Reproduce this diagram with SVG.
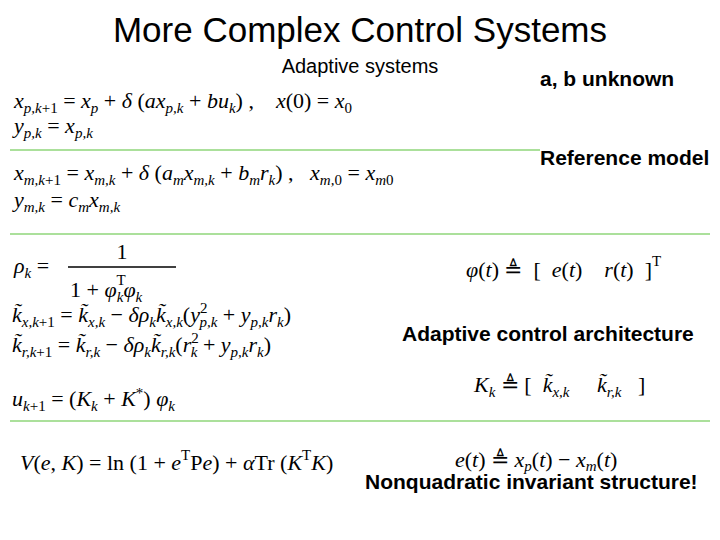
<svg xmlns="http://www.w3.org/2000/svg" width="720" height="540" viewBox="0 0 720 540">
<style>
.m{font-family:"Liberation Serif",serif;font-size:22px;fill:#000;white-space:pre}
.i{font-style:italic}
.s{font-size:15px}
.h{font-family:"Liberation Sans",sans-serif;fill:#000}
.b{font-family:"Liberation Sans",sans-serif;font-weight:bold;font-size:21px;fill:#000}
.g{stroke:#8fd67a;stroke-width:1.5}
</style>
<rect width="720" height="540" fill="#fff"/>
<g id="title"><text class="h" x="360" y="42" font-size="35" text-anchor="middle">More Complex Control Systems</text>
<text class="h" x="360" y="73" font-size="20" text-anchor="middle">Adaptive systems</text></g>
<g id="labels">
<text class="b" x="540" y="86">a, b unknown</text>
<text class="b" x="540" y="165">Reference model</text>
<text class="b" x="402" y="341">Adaptive control architecture</text>
<text class="b" x="365" y="489">Nonquadratic invariant structure!</text>
</g>
<g id="lines">
<line class="g" x1="10" y1="150" x2="540" y2="150"/>
<line class="g" x1="10" y1="234" x2="710" y2="234"/>
<line class="g" x1="10" y1="421" x2="710" y2="421"/>
</g>
<g id="eq">
<text class="m" x="14" y="108"><tspan class="i">x</tspan><tspan class="i s" dy="5">p,k</tspan><tspan class="s">+1</tspan><tspan dy="-5"> = </tspan><tspan class="i">x</tspan><tspan class="i s" dy="5">p</tspan><tspan dy="-5"> + </tspan><tspan class="i">δ</tspan> (<tspan class="i">ax</tspan><tspan class="i s" dy="5">p,k</tspan><tspan dy="-5"> + </tspan><tspan class="i">bu</tspan><tspan class="i s" dy="5">k</tspan><tspan dy="-5">) ,    </tspan><tspan class="i">x</tspan>(0) = <tspan class="i">x</tspan><tspan class="s" dy="5">0</tspan></text>
<text class="m" x="14" y="133"><tspan class="i">y</tspan><tspan class="i s" dy="5">p,k</tspan><tspan dy="-5"> = </tspan><tspan class="i">x</tspan><tspan class="i s" dy="5">p,k</tspan></text>
<text class="m" x="14" y="180"><tspan class="i">x</tspan><tspan class="i s" dy="5">m,k</tspan><tspan class="s">+1</tspan><tspan dy="-5"> = </tspan><tspan class="i">x</tspan><tspan class="i s" dy="5">m,k</tspan><tspan dy="-5"> + </tspan><tspan class="i">δ</tspan> (<tspan class="i">a</tspan><tspan class="i s" dy="5">m</tspan><tspan class="i" dy="-5">x</tspan><tspan class="i s" dy="5">m,k</tspan><tspan dy="-5"> + </tspan><tspan class="i">b</tspan><tspan class="i s" dy="5">m</tspan><tspan class="i" dy="-5">r</tspan><tspan class="i s" dy="5">k</tspan><tspan dy="-5">) ,   </tspan><tspan class="i">x</tspan><tspan class="i s" dy="5">m,</tspan><tspan class="s">0</tspan><tspan dy="-5"> = </tspan><tspan class="i">x</tspan><tspan class="i s" dy="5">m</tspan><tspan class="s">0</tspan></text>
<text class="m" x="14" y="207"><tspan class="i">y</tspan><tspan class="i s" dy="5">m,k</tspan><tspan dy="-5"> = </tspan><tspan class="i">c</tspan><tspan class="i s" dy="5">m</tspan><tspan class="i" dy="-5">x</tspan><tspan class="i s" dy="5">m,k</tspan></text>
<text class="m" x="14" y="273" font-size="24"><tspan class="i">ρ</tspan><tspan class="i s" dy="5">k</tspan><tspan dy="-5"> =</tspan></text>
<text class="m" x="122" y="259" font-size="24" text-anchor="middle">1</text>
<line x1="68" y1="267" x2="176" y2="267" stroke="#000" stroke-width="1.3"/>
<text class="m" x="70" y="297" font-size="24">1 + <tspan class="i">φ</tspan><tspan class="s" dy="-12">T</tspan><tspan class="i s" dx="-9" dy="17">k</tspan><tspan class="i" dy="-5">φ</tspan><tspan class="i s" dy="5">k</tspan></text>
<text class="m" x="12" y="322" font-size="23"><tspan class="i">k̃</tspan><tspan class="i s" dy="5">x,k</tspan><tspan class="s">+1</tspan><tspan dy="-5"> = </tspan><tspan class="i">k̃</tspan><tspan class="i s" dy="5">x,k</tspan><tspan dy="-5"> − </tspan><tspan class="i">δρ</tspan><tspan class="i s" dy="5">k</tspan><tspan class="i" dy="-5">k̃</tspan><tspan class="i s" dy="5">x,k</tspan><tspan dy="-5">(</tspan><tspan class="i">y</tspan><tspan class="s" dy="-9">2</tspan><tspan class="i s" dx="-8" dy="14">p,k</tspan><tspan dy="-5"> + </tspan><tspan class="i">y</tspan><tspan class="i s" dy="5">p,k</tspan><tspan class="i" dy="-5">r</tspan><tspan class="i s" dy="5">k</tspan><tspan dy="-5">)</tspan></text>
<text class="m" x="12" y="352" font-size="23"><tspan class="i">k̃</tspan><tspan class="i s" dy="5">r,k</tspan><tspan class="s">+1</tspan><tspan dy="-5"> = </tspan><tspan class="i">k̃</tspan><tspan class="i s" dy="5">r,k</tspan><tspan dy="-5"> − </tspan><tspan class="i">δρ</tspan><tspan class="i s" dy="5">k</tspan><tspan class="i" dy="-5">k̃</tspan><tspan class="i s" dy="5">r,k</tspan><tspan dy="-5">(</tspan><tspan class="i">r</tspan><tspan class="s" dy="-9">2</tspan><tspan class="i s" dx="-8" dy="14">k</tspan><tspan dy="-5"> + </tspan><tspan class="i">y</tspan><tspan class="i s" dy="5">p,k</tspan><tspan class="i" dy="-5">r</tspan><tspan class="i s" dy="5">k</tspan><tspan dy="-5">)</tspan></text>
<text class="m" x="12" y="406"><tspan class="i">u</tspan><tspan class="i s" dy="5">k</tspan><tspan class="s">+1</tspan><tspan dy="-5"> = (</tspan><tspan class="i">K</tspan><tspan class="i s" dy="5">k</tspan><tspan dy="-5"> + </tspan><tspan class="i">K</tspan><tspan class="s" dy="-8">*</tspan><tspan dy="8">) </tspan><tspan class="i">φ</tspan><tspan class="i s" dy="5">k</tspan></text>
<text class="m" x="466" y="277" font-size="22"><tspan class="i">φ</tspan>(<tspan class="i">t</tspan>) ≜  [  <tspan class="i">e</tspan>(<tspan class="i">t</tspan>)    <tspan class="i">r</tspan>(<tspan class="i">t</tspan>)  ]<tspan class="s" dy="-11">T</tspan></text>
<text class="m" x="474" y="392" font-size="22"><tspan class="i">K</tspan><tspan class="i s" dy="5">k</tspan><tspan dy="-5"> ≜ [  </tspan><tspan class="i">k̃</tspan><tspan class="i s" dy="5">x,k</tspan><tspan dy="-5">     </tspan><tspan class="i">k̃</tspan><tspan class="i s" dy="5">r,k</tspan><tspan dy="-5">   ]</tspan></text>
<text class="m" x="20" y="470" font-size="22"><tspan class="i">V</tspan>(<tspan class="i">e</tspan>, <tspan class="i">K</tspan>) = ln (1 + <tspan class="i">e</tspan><tspan class="s" dy="-10">T</tspan><tspan dy="10">P</tspan><tspan class="i">e</tspan>) + <tspan class="i">α</tspan>Tr (<tspan class="i">K</tspan><tspan class="s" dy="-10">T</tspan><tspan class="i" dy="10">K</tspan>)</text>
<text class="m" x="455" y="467" font-size="22"><tspan class="i">e</tspan>(<tspan class="i">t</tspan>) ≜ <tspan class="i">x</tspan><tspan class="i s" dy="4">p</tspan><tspan dy="-4">(</tspan><tspan class="i">t</tspan>) − <tspan class="i">x</tspan><tspan class="i s" dy="4">m</tspan><tspan dy="-4">(</tspan><tspan class="i">t</tspan>)</text>
</g>
</svg>
